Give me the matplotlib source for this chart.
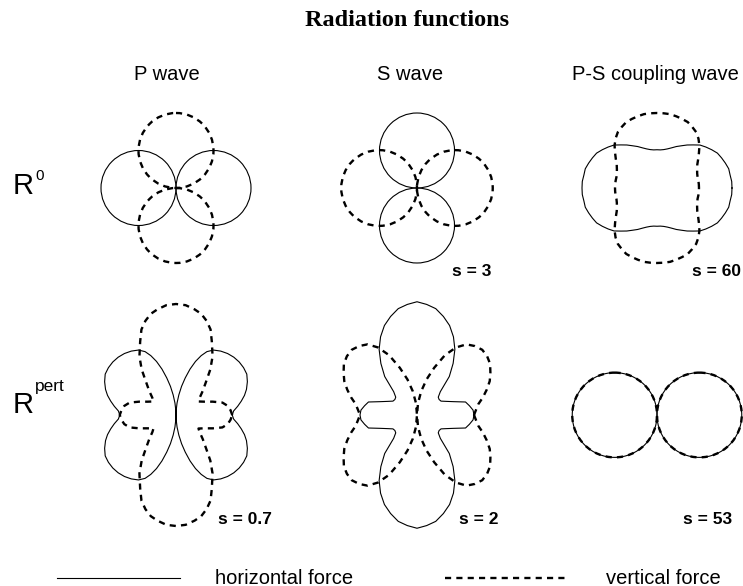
import numpy as np
import matplotlib.pyplot as plt
from matplotlib.patches import Circle

# radii are read off the picture, 1 unit = the P wave R0 lobe diameter
# only the first quadrant is kept, the patterns are symmetric about both axes

# circle lobes: diameter, lobe direction
p0_horiz = (1.0, 'h')
p0_vert = (1.0, 'v')
s0_horiz = (1.0, 'v')
s0_vert = (1.01, 'h')
ps_pert_horiz = (1.13, 'h')
ps_pert_vert = (1.13, 'h')

# P-S coupling wave, R0
ps0_ang = [0, 5, 10, 15, 20, 25, 30, 35, 40, 45, 50, 55, 60, 65, 70, 75, 80, 85, 90]
ps0_horiz = [1.0, 1.0, 0.99, 0.99, 0.97, 0.95, 0.93, 0.89, 0.85, 0.81, 0.75, 0.70, 0.65,
             0.61, 0.57, 0.54, 0.52, 0.51, 0.51]
ps0_vert = [0.56, 0.56, 0.56, 0.56, 0.57, 0.59, 0.62, 0.67, 0.73, 0.80, 0.86, 0.91, 0.94,
            0.97, 0.98, 0.99, 1.0, 1.0, 1.0]

# P wave, Rpert
pp_horiz_ang = [0, 4, 8, 12, 16, 20, 25, 30, 35, 40, 45, 50, 55, 60, 64, 67, 70, 73, 76,
                79, 82, 85, 88, 90]
pp_horiz = [0.75, 0.77, 0.83, 0.89, 0.95, 1.0, 1.05, 1.09, 1.10, 1.10, 1.09, 1.07, 1.04,
            1.0, 0.94, 0.86, 0.76, 0.64, 0.51, 0.39, 0.27, 0.16, 0.06, 0.0]
pp_vert_ang = [0, 5, 10, 15, 20, 25, 31, 36, 42, 48, 53, 58, 64, 68, 72, 76, 80, 85, 90]
pp_vert = [0.75, 0.73, 0.70, 0.64, 0.52, 0.42, 0.35, 0.39, 0.48, 0.60, 0.76, 0.92, 1.09,
           1.23, 1.32, 1.39, 1.43, 1.47, 1.48]

# S wave, Rpert
sp_ang = [0, 5, 10, 15, 20, 25, 30, 35, 40, 45, 50, 55, 60, 65, 70, 75, 80, 85, 90]
sp_horiz = [0.76, 0.75, 0.71, 0.67, 0.52, 0.43, 0.37, 0.36, 0.37, 0.44, 0.67, 0.84, 1.01,
            1.15, 1.27, 1.36, 1.44, 1.48, 1.51]
sp_vert = [0.76, 0.79, 0.83, 0.91, 0.99, 1.07, 1.13, 1.19, 1.22, 1.23, 1.20, 1.15, 1.04,
           0.88, 0.67, 0.49, 0.32, 0.16, 0.0]

col_titles = ['P wave', 'S wave', 'P-S coupling wave']
scale_labels = [['', 's = 3', 's = 60'], ['s = 0.7', 's = 2', 's = 53']]

# layout (pixels)
W, H = 743, 586
UNIT = 75
col_x = [176, 417, 657]
row_y = [188, 415]
SOLID = dict(color='black', lw=0.8)
DASHED = dict(color='black', lw=1.7, linestyle=(0, (2.6, 2.2)))

fig = plt.figure(figsize=(W / 100, H / 100), dpi=100)
ax = fig.add_axes([0, 0, 1, 1])
ax.set_xlim(0, W)
ax.set_ylim(H, 0)
ax.set_aspect('equal')
ax.axis('off')


def lobes(cx, cy, spec, style):
    d, kind = spec
    r = d * UNIT / 2
    for sgn in (-1, 1):
        if kind == 'h':
            c = Circle((cx + sgn * r, cy), r, fill=False, **style)
        else:
            c = Circle((cx, cy + sgn * r), r, fill=False, **style)
        ax.add_patch(c)


def pattern(cx, cy, ang, rad, style):
    a = np.radians(np.array(ang, dtype=float))
    r = np.array(rad, dtype=float)
    # mirror the quadrant round the full circle
    th = np.concatenate([a, np.pi - a[::-1], np.pi + a, 2 * np.pi - a[::-1]])
    rr = np.concatenate([r, r[::-1], r, r[::-1]])
    ax.plot(cx + UNIT * rr * np.cos(th), cy - UNIT * rr * np.sin(th), **style)


# row R0
lobes(col_x[0], row_y[0], p0_horiz, SOLID)
lobes(col_x[0], row_y[0], p0_vert, DASHED)
lobes(col_x[1], row_y[0], s0_horiz, SOLID)
lobes(col_x[1], row_y[0], s0_vert, DASHED)
pattern(col_x[2], row_y[0], ps0_ang, ps0_horiz, SOLID)
pattern(col_x[2], row_y[0], ps0_ang, ps0_vert, DASHED)

# row Rpert
pattern(col_x[0], row_y[1], pp_horiz_ang, pp_horiz, SOLID)
pattern(col_x[0], row_y[1], pp_vert_ang, pp_vert, DASHED)
pattern(col_x[1], row_y[1], sp_ang, sp_horiz, SOLID)
pattern(col_x[1], row_y[1], sp_ang, sp_vert, DASHED)
lobes(col_x[2], row_y[1], ps_pert_horiz, SOLID)
lobes(col_x[2], row_y[1], ps_pert_vert, DASHED)

sans = 'Liberation Sans'
ax.text(407, 20, 'Radiation functions', family='Liberation Serif', weight='bold',
        fontsize=17.5, ha='center', va='center')
for x, t in zip([167, 410, 655], col_titles):
    ax.text(x, 75, t, family=sans, fontsize=14.5, ha='center', va='center')

ax.text(13, 194, 'R', family=sans, fontsize=21, ha='left', va='baseline')
ax.text(35, 180, '0', family=sans, fontsize=11, ha='left', va='baseline')
ax.text(13, 413, 'R', family=sans, fontsize=21, ha='left', va='baseline')
ax.text(35, 391, 'pert', family=sans, fontsize=12.5, ha='left', va='baseline')

label_x = [[0, 452, 692], [218, 459, 683]]
label_y = [271, 519]
for i in range(2):
    for j in range(3):
        if scale_labels[i][j]:
            ax.text(label_x[i][j], label_y[i], scale_labels[i][j], family=sans,
                    weight='bold', fontsize=12.5, ha='left', va='center')

# legend
ax.plot([57, 180], [578, 578], **SOLID)
ax.text(215, 578, 'horizontal force', family=sans, fontsize=14.5, ha='left', va='center')
ax.plot([445, 565], [578, 578], **DASHED)
ax.text(606, 578, 'vertical force', family=sans, fontsize=14.5, ha='left', va='center')

fig.savefig('out.png', dpi=100)
